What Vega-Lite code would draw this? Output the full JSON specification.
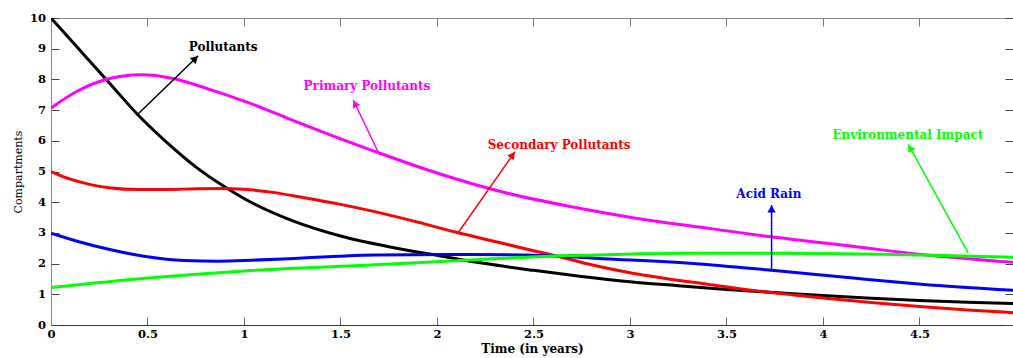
{
  "$schema": "https://vega.github.io/schema/vega-lite/v6.json",
  "width": 962,
  "height": 307,
  "autosize": {"type": "none"},
  "padding": {"left": 51, "top": 18, "right": 0, "bottom": 33},
  "background": "white",
  "config": {
    "view": {"stroke": "#888888", "strokeWidth": 1},
    "axis": {"grid": false, "labelFlush": false, "labelOverlap": false}
  },
  "datasets": {
    "curves": [
      {"series": "Pollutants", "t": 0, "v": 10},
      {"series": "Pollutants", "t": 0.15, "v": 8.95},
      {"series": "Pollutants", "t": 0.3, "v": 7.9},
      {"series": "Pollutants", "t": 0.45, "v": 6.85},
      {"series": "Pollutants", "t": 0.6, "v": 5.95},
      {"series": "Pollutants", "t": 0.75, "v": 5.15},
      {"series": "Pollutants", "t": 0.9, "v": 4.5},
      {"series": "Pollutants", "t": 1.0, "v": 4.12},
      {"series": "Pollutants", "t": 1.25, "v": 3.4},
      {"series": "Pollutants", "t": 1.5, "v": 2.9},
      {"series": "Pollutants", "t": 1.75, "v": 2.55},
      {"series": "Pollutants", "t": 2.0, "v": 2.27},
      {"series": "Pollutants", "t": 2.25, "v": 2.0},
      {"series": "Pollutants", "t": 2.5, "v": 1.78},
      {"series": "Pollutants", "t": 2.75, "v": 1.58},
      {"series": "Pollutants", "t": 3.0, "v": 1.41},
      {"series": "Pollutants", "t": 3.25, "v": 1.28},
      {"series": "Pollutants", "t": 3.5, "v": 1.16},
      {"series": "Pollutants", "t": 3.75, "v": 1.06},
      {"series": "Pollutants", "t": 4.0, "v": 0.96},
      {"series": "Pollutants", "t": 4.25, "v": 0.87},
      {"series": "Pollutants", "t": 4.5, "v": 0.8},
      {"series": "Pollutants", "t": 4.75, "v": 0.74},
      {"series": "Pollutants", "t": 4.985, "v": 0.7},
      {"series": "Primary Pollutants", "t": 0, "v": 7.07},
      {"series": "Primary Pollutants", "t": 0.14, "v": 7.63},
      {"series": "Primary Pollutants", "t": 0.28, "v": 7.99},
      {"series": "Primary Pollutants", "t": 0.47, "v": 8.15},
      {"series": "Primary Pollutants", "t": 0.625, "v": 8.04},
      {"series": "Primary Pollutants", "t": 0.83, "v": 7.66},
      {"series": "Primary Pollutants", "t": 1.04, "v": 7.2},
      {"series": "Primary Pollutants", "t": 1.26, "v": 6.65},
      {"series": "Primary Pollutants", "t": 1.49, "v": 6.09},
      {"series": "Primary Pollutants", "t": 1.68, "v": 5.65},
      {"series": "Primary Pollutants", "t": 2.0, "v": 4.95},
      {"series": "Primary Pollutants", "t": 2.34, "v": 4.33},
      {"series": "Primary Pollutants", "t": 2.69, "v": 3.86},
      {"series": "Primary Pollutants", "t": 3.03, "v": 3.48},
      {"series": "Primary Pollutants", "t": 3.36, "v": 3.19},
      {"series": "Primary Pollutants", "t": 3.72, "v": 2.88},
      {"series": "Primary Pollutants", "t": 4.17, "v": 2.55},
      {"series": "Primary Pollutants", "t": 4.51, "v": 2.3},
      {"series": "Primary Pollutants", "t": 4.985, "v": 2.04},
      {"series": "Secondary Pollutants", "t": 0, "v": 5.0},
      {"series": "Secondary Pollutants", "t": 0.1, "v": 4.75},
      {"series": "Secondary Pollutants", "t": 0.2, "v": 4.58},
      {"series": "Secondary Pollutants", "t": 0.3, "v": 4.47},
      {"series": "Secondary Pollutants", "t": 0.45, "v": 4.41},
      {"series": "Secondary Pollutants", "t": 0.6, "v": 4.41},
      {"series": "Secondary Pollutants", "t": 0.75, "v": 4.44},
      {"series": "Secondary Pollutants", "t": 0.9, "v": 4.45},
      {"series": "Secondary Pollutants", "t": 1.0, "v": 4.42},
      {"series": "Secondary Pollutants", "t": 1.15, "v": 4.32},
      {"series": "Secondary Pollutants", "t": 1.3, "v": 4.16},
      {"series": "Secondary Pollutants", "t": 1.5, "v": 3.93},
      {"series": "Secondary Pollutants", "t": 1.7, "v": 3.66},
      {"series": "Secondary Pollutants", "t": 1.9, "v": 3.35},
      {"series": "Secondary Pollutants", "t": 2.1, "v": 3.02},
      {"series": "Secondary Pollutants", "t": 2.3, "v": 2.72},
      {"series": "Secondary Pollutants", "t": 2.5, "v": 2.42},
      {"series": "Secondary Pollutants", "t": 2.65, "v": 2.2},
      {"series": "Secondary Pollutants", "t": 2.8, "v": 1.96},
      {"series": "Secondary Pollutants", "t": 3.0, "v": 1.7},
      {"series": "Secondary Pollutants", "t": 3.2, "v": 1.5},
      {"series": "Secondary Pollutants", "t": 3.4, "v": 1.33},
      {"series": "Secondary Pollutants", "t": 3.65, "v": 1.12},
      {"series": "Secondary Pollutants", "t": 3.85, "v": 0.98},
      {"series": "Secondary Pollutants", "t": 4.0, "v": 0.88},
      {"series": "Secondary Pollutants", "t": 4.25, "v": 0.73},
      {"series": "Secondary Pollutants", "t": 4.5, "v": 0.6},
      {"series": "Secondary Pollutants", "t": 4.75, "v": 0.49},
      {"series": "Secondary Pollutants", "t": 4.985, "v": 0.4},
      {"series": "Acid Rain", "t": 0, "v": 2.99},
      {"series": "Acid Rain", "t": 0.14, "v": 2.72},
      {"series": "Acid Rain", "t": 0.31, "v": 2.45},
      {"series": "Acid Rain", "t": 0.49, "v": 2.23},
      {"series": "Acid Rain", "t": 0.69, "v": 2.1},
      {"series": "Acid Rain", "t": 0.87, "v": 2.08},
      {"series": "Acid Rain", "t": 1.04, "v": 2.11},
      {"series": "Acid Rain", "t": 1.26, "v": 2.17},
      {"series": "Acid Rain", "t": 1.49, "v": 2.24},
      {"series": "Acid Rain", "t": 1.68, "v": 2.28},
      {"series": "Acid Rain", "t": 2.17, "v": 2.3},
      {"series": "Acid Rain", "t": 2.51, "v": 2.27},
      {"series": "Acid Rain", "t": 2.86, "v": 2.16},
      {"series": "Acid Rain", "t": 3.36, "v": 1.99},
      {"series": "Acid Rain", "t": 3.72, "v": 1.79},
      {"series": "Acid Rain", "t": 4.17, "v": 1.52},
      {"series": "Acid Rain", "t": 4.51, "v": 1.33},
      {"series": "Acid Rain", "t": 4.985, "v": 1.13},
      {"series": "Environmental Impact", "t": 0, "v": 1.22},
      {"series": "Environmental Impact", "t": 0.49, "v": 1.52},
      {"series": "Environmental Impact", "t": 1.0, "v": 1.76},
      {"series": "Environmental Impact", "t": 1.68, "v": 1.96},
      {"series": "Environmental Impact", "t": 2.17, "v": 2.12},
      {"series": "Environmental Impact", "t": 2.69, "v": 2.26},
      {"series": "Environmental Impact", "t": 3.36, "v": 2.34},
      {"series": "Environmental Impact", "t": 4.0, "v": 2.33},
      {"series": "Environmental Impact", "t": 4.51, "v": 2.28},
      {"series": "Environmental Impact", "t": 4.985, "v": 2.21}
    ],
    "notes": [
      {"series": "Pollutants", "t0": 0.447, "v0": 6.85, "t1": 0.763, "v1": 8.77, "ta": 0.748, "va": 8.68, "tl": 0.892, "vl": 9.07},
      {"series": "Primary Pollutants", "t0": 1.694, "v0": 5.65, "t1": 1.566, "v1": 7.33, "ta": 1.575, "va": 7.21, "tl": 1.637, "vl": 7.8},
      {"series": "Secondary Pollutants", "t0": 2.108, "v0": 2.99, "t1": 2.404, "v1": 5.645, "ta": 2.392, "va": 5.54, "tl": 2.633, "vl": 5.87},
      {"series": "Acid Rain", "t0": 3.734, "v0": 1.79, "t1": 3.734, "v1": 3.91, "ta": 3.734, "va": 3.78, "tl": 3.72, "vl": 4.26},
      {"series": "Environmental Impact", "t0": 4.753, "v0": 2.34, "t1": 4.442, "v1": 5.886, "ta": 4.452, "va": 5.77, "tl": 4.44, "vl": 6.19}
    ]
  },
  "resolve": {"axis": {"x": "independent", "y": "independent"}},
  "layer": [
    {
      "data": {"name": "curves"},
      "mark": {"type": "line", "strokeWidth": 3, "interpolate": "monotone", "clip": true},
      "encoding": {
        "x": {
          "field": "t", "type": "quantitative",
          "scale": {"domain": [0, 4.985], "nice": false, "zero": false},
          "axis": {
            "orient": "bottom", "values": [0, 0.5, 1, 1.5, 2, 2.5, 3, 3.5, 4, 4.5], "format": "~g",
            "tickSize": -8, "tickColor": "#666666", "labelPadding": 11.5,
            "domainColor": "#333333",
            "labelFont": "DejaVu Serif", "labelFontWeight": "bold", "labelFontSize": 11.5, "labelColor": "#000000",
            "title": "Time (in years)", "titleFont": "DejaVu Serif", "titleFontWeight": "bold", "titleFontSize": 12,
            "titleColor": "#000000", "titlePadding": 3
          }
        },
        "y": {
          "field": "v", "type": "quantitative",
          "scale": {"domain": [0, 10], "nice": false},
          "axis": {
            "orient": "left", "values": [0, 1, 2, 3, 4, 5, 6, 7, 8, 9, 10], "format": "d",
            "tickSize": -8, "tickColor": "#444444", "labelPadding": 13.5,
            "domainColor": "#888888",
            "labelFont": "DejaVu Serif", "labelFontWeight": "bold", "labelFontSize": 11.5, "labelColor": "#000000",
            "title": "Compartments", "titleFont": "DejaVu Serif", "titleFontWeight": "normal", "titleFontSize": 11,
            "titleColor": "#000000", "titlePadding": 6
          }
        },
        "color": {
          "field": "series", "type": "nominal",
          "scale": {
            "domain": ["Pollutants", "Primary Pollutants", "Secondary Pollutants", "Acid Rain", "Environmental Impact"],
            "range": ["#000000", "#ff00ff", "#ff0000", "#0000ff", "#00ff00"]
          },
          "legend": null
        }
      }
    },
    {
      "data": {"name": "notes"},
      "mark": {"type": "rule", "strokeWidth": 1.5},
      "encoding": {
        "x": {
          "field": "t0", "type": "quantitative",
          "axis": {"orient": "top", "values": [0, 0.5, 1, 1.5, 2, 2.5, 3, 3.5, 4, 4.5], "labels": false, "title": null, "tickSize": -8, "tickColor": "#777777", "domain": false}
        },
        "x2": {"field": "t1"},
        "y": {
          "field": "v0", "type": "quantitative",
          "axis": {"orient": "right", "values": [0, 1, 2, 3, 4, 5, 6, 7, 8, 9, 10], "labels": false, "title": null, "tickSize": -8, "tickColor": "#444444", "domain": false}
        },
        "y2": {"field": "v1"},
        "color": {"field": "series", "type": "nominal", "legend": null}
      }
    },
    {
      "data": {"name": "notes"},
      "transform": [{"filter": "datum.series === 'Pollutants'"}],
      "mark": {"type": "point", "shape": "triangle-up", "filled": true, "size": 70, "angle": 46, "opacity": 1},
      "encoding": {
        "x": {"field": "ta", "type": "quantitative", "axis": null},
        "y": {"field": "va", "type": "quantitative", "axis": null},
        "color": {"field": "series", "type": "nominal", "legend": null}
      }
    },
    {
      "data": {"name": "notes"},
      "transform": [{"filter": "datum.series === 'Primary Pollutants'"}],
      "mark": {"type": "point", "shape": "triangle-up", "filled": true, "size": 70, "angle": -26, "opacity": 1},
      "encoding": {
        "x": {"field": "ta", "type": "quantitative", "axis": null},
        "y": {"field": "va", "type": "quantitative", "axis": null},
        "color": {"field": "series", "type": "nominal", "legend": null}
      }
    },
    {
      "data": {"name": "notes"},
      "transform": [{"filter": "datum.series === 'Secondary Pollutants'"}],
      "mark": {"type": "point", "shape": "triangle-up", "filled": true, "size": 70, "angle": 35, "opacity": 1},
      "encoding": {
        "x": {"field": "ta", "type": "quantitative", "axis": null},
        "y": {"field": "va", "type": "quantitative", "axis": null},
        "color": {"field": "series", "type": "nominal", "legend": null}
      }
    },
    {
      "data": {"name": "notes"},
      "transform": [{"filter": "datum.series === 'Acid Rain'"}],
      "mark": {"type": "point", "shape": "triangle-up", "filled": true, "size": 70, "angle": 0, "opacity": 1},
      "encoding": {
        "x": {"field": "ta", "type": "quantitative", "axis": null},
        "y": {"field": "va", "type": "quantitative", "axis": null},
        "color": {"field": "series", "type": "nominal", "legend": null}
      }
    },
    {
      "data": {"name": "notes"},
      "transform": [{"filter": "datum.series === 'Environmental Impact'"}],
      "mark": {"type": "point", "shape": "triangle-up", "filled": true, "size": 70, "angle": -29, "opacity": 1},
      "encoding": {
        "x": {"field": "ta", "type": "quantitative", "axis": null},
        "y": {"field": "va", "type": "quantitative", "axis": null},
        "color": {"field": "series", "type": "nominal", "legend": null}
      }
    },
    {
      "data": {"name": "notes"},
      "mark": {"type": "text", "font": "DejaVu Serif", "fontWeight": "bold", "fontSize": 12, "align": "center", "baseline": "middle"},
      "encoding": {
        "x": {"field": "tl", "type": "quantitative", "axis": null},
        "y": {"field": "vl", "type": "quantitative", "axis": null},
        "text": {"field": "series"},
        "color": {"field": "series", "type": "nominal", "legend": null}
      }
    }
  ]
}
